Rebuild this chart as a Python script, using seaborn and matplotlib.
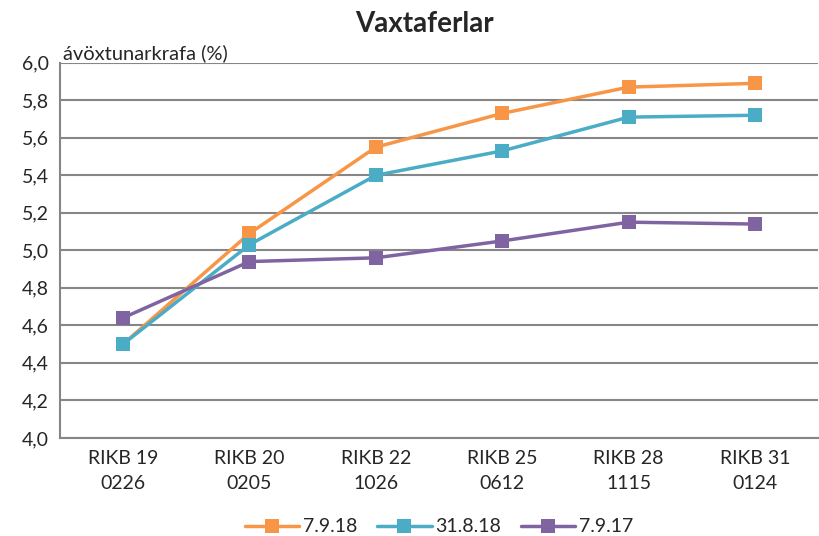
import matplotlib
matplotlib.use("Agg")

import matplotlib.pyplot as plt
import seaborn as sns
import pandas as pd
from matplotlib.ticker import FuncFormatter, FixedLocator

# Data
categories = ["RIKB 19\n0226", "RIKB 20\n0205", "RIKB 22\n1026",
              "RIKB 25\n0612", "RIKB 28\n1115", "RIKB 31\n0124"]
series_names = ["7.9.18", "31.8.18", "7.9.17"]
vals_7918 = [4.50, 5.09, 5.55, 5.73, 5.87, 5.89]
vals_31818 = [4.50, 5.03, 5.40, 5.53, 5.71, 5.72]
vals_7917 = [4.64, 4.94, 4.96, 5.05, 5.15, 5.14]
colors = ["#F79646", "#4BACC6", "#8064A2"]

rows = []
for name, vals in zip(series_names, [vals_7918, vals_31818, vals_7917]):
    for i, v in enumerate(vals):
        rows.append({"pos": i, "value": v, "series": name})
df = pd.DataFrame(rows)

sns.set_style("white")
plt.rcParams["font.family"] = ["Lato", "DejaVu Sans"]

fig = plt.figure(figsize=(8.2, 5.36), dpi=100)
ax = fig.add_axes([0.073, 0.183, 0.925, 0.700])

sns.lineplot(
    data=df, x="pos", y="value", hue="series",
    hue_order=series_names, palette=colors,
    style="series", markers=["s", "s", "s"], dashes=False,
    markersize=10, linewidth=2.5, markeredgewidth=0,
    sort=False, ax=ax
)

ax.set_xlim(-0.5, 5.5)
ax.set_ylim(4.0, 6.0)
ax.set_yticks([4.0 + 0.2 * i for i in range(11)])
ax.yaxis.set_major_formatter(FuncFormatter(lambda v, p: f"{v:.1f}".replace(".", ",")))
ax.grid(axis="y", color="#868686", linewidth=1.5)
ax.set_axisbelow(True)

ax.set_xticks(range(len(categories)))
ax.set_xticklabels(categories, fontsize=14, linespacing=1.55)
ax.xaxis.set_minor_locator(FixedLocator([i + 0.5 for i in range(-1, 6)]))
ax.tick_params(axis="x", which="major", length=0, pad=9)
ax.tick_params(axis="x", which="minor", length=5, color="#868686", width=1.5, direction="out")
ax.tick_params(axis="y", length=5, color="#868686", width=1.5, labelsize=14, pad=3)

for s in ["top", "right"]:
    ax.spines[s].set_visible(False)
for s in ["left", "bottom"]:
    ax.spines[s].set_color("#868686")
    ax.spines[s].set_linewidth(1.5)

ax.set_xlabel("")
ax.set_ylabel("")
ax.text(0.004, 1.002, "ávöxtunarkrafa (%)", transform=ax.transAxes,
        fontsize=14.5, va="bottom", ha="left")
fig.text(0.518, 0.955, "Vaxtaferlar", fontsize=20, fontweight="bold",
         ha="center", va="center")

ax.legend(loc="center", bbox_to_anchor=(0.5, -0.237), ncol=3,
          frameon=False, fontsize=14, handlelength=2.8, columnspacing=1.0,
          handletextpad=0.2, borderaxespad=0)

fig.savefig("out.png", dpi=100)
